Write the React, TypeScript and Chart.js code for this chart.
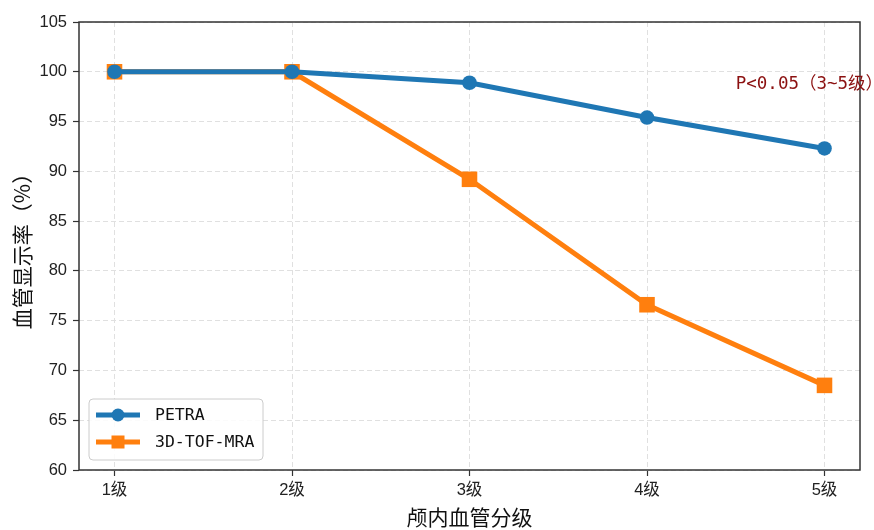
import { useEffect, useRef } from "react";
import { Chart, registerables } from "chart.js";

Chart.register(...registerables);

// Grade categories on the x axis
const GRADES = ["1级", "2级", "3级", "4级", "5级"];
const GRADE_POS = [1, 2, 3, 4, 5];

// Vessel display rate (%) per grade
const PETRA = [100, 100, 98.9, 95.4, 92.3];
const TOF_MRA = [100, 100, 89.2, 76.6, 68.5];
const SERIES_NAMES = ["PETRA", "3D-TOF-MRA"];
const SERIES_COLORS = ["#1f77b4", "#ff7f0e"];

// Y axis range / ticks
const Y_MIN = 60;
const Y_MAX = 105;
const Y_STEP = 5;

const X_TITLE = "颅内血管分级";
const Y_TITLE = "血管显示率（%）";
const NOTE = "P<0.05（3~5级）";
const NOTE_AT = { x: 4.5, y: 98.7 };

const MONO = '"DejaVu Sans Mono", "Noto Sans CJK SC", monospace';
const CJK = '"Noto Sans CJK SC", sans-serif';
const TICK_FONT = '"Liberation Sans", "Noto Sans CJK SC", sans-serif';

const decorPlugin = {
  id: "decor",
  afterDraw(chart: any) {
    const { ctx, chartArea: a, scales } = chart;
    ctx.save();

    // box frame around the plot area
    ctx.strokeStyle = "#333";
    ctx.lineWidth = 1.5;
    ctx.strokeRect(a.left, a.top, a.right - a.left, a.bottom - a.top);

    // axis titles
    ctx.fillStyle = "#111";
    ctx.font = `21px ${CJK}`;
    ctx.textAlign = "center";
    ctx.textBaseline = "middle";
    ctx.fillText(X_TITLE, (a.left + a.right) / 2, 517);
    ctx.save();
    ctx.translate(22, (a.top + a.bottom) / 2);
    ctx.rotate(-Math.PI / 2);
    ctx.fillText(Y_TITLE, 0, 0);
    ctx.restore();

    // significance note
    ctx.fillStyle = "#8b1010";
    ctx.font = `17.5px ${MONO}`;
    ctx.textAlign = "left";
    ctx.fillText(
      NOTE,
      scales.x.getPixelForValue(NOTE_AT.x),
      scales.y.getPixelForValue(NOTE_AT.y)
    );

    // legend box
    const bx = a.left + 10;
    const by = a.bottom - 71;
    const bw = 174;
    const bh = 61;
    ctx.beginPath();
    ctx.roundRect(bx, by, bw, bh, 4);
    ctx.fillStyle = "rgba(255,255,255,0.85)";
    ctx.fill();
    ctx.strokeStyle = "#cccccc";
    ctx.lineWidth = 1;
    ctx.stroke();

    chart.data.datasets.forEach((ds: any, i: number) => {
      const cy = by + 16 + i * 27;
      ctx.strokeStyle = ds.borderColor;
      ctx.lineWidth = 5;
      ctx.beginPath();
      ctx.moveTo(bx + 7, cy);
      ctx.lineTo(bx + 51, cy);
      ctx.stroke();
      ctx.fillStyle = ds.borderColor;
      if (ds.pointStyle === "rect") {
        ctx.fillRect(bx + 29 - 6.5, cy - 6.5, 13, 13);
      } else {
        ctx.beginPath();
        ctx.arc(bx + 29, cy, 6.5, 0, Math.PI * 2);
        ctx.fill();
      }
      ctx.fillStyle = "#111";
      ctx.font = `16.5px ${MONO}`;
      ctx.textAlign = "left";
      ctx.fillText(ds.label, bx + 66, cy + 1);
    });

    ctx.restore();
  },
};

export default function App() {
  const canvasRef = useRef<HTMLCanvasElement | null>(null);

  useEffect(() => {
    const canvas = canvasRef.current;
    if (!canvas) return;

    const makeData = (vals: number[]) =>
      vals.map((v, i) => ({ x: GRADE_POS[i], y: v }));

    const chart = new Chart(canvas, {
      type: "line",
      data: {
        datasets: [
          {
            label: SERIES_NAMES[0],
            data: makeData(PETRA),
            borderColor: SERIES_COLORS[0],
            backgroundColor: SERIES_COLORS[0],
            borderWidth: 5,
            pointStyle: "circle",
            pointRadius: 7.3,
            pointBorderWidth: 0,
            tension: 0,
          },
          {
            label: SERIES_NAMES[1],
            data: makeData(TOF_MRA),
            borderColor: SERIES_COLORS[1],
            backgroundColor: SERIES_COLORS[1],
            borderWidth: 5,
            pointStyle: "rect",
            pointRadius: 11,
            pointBorderWidth: 0,
            tension: 0,
          },
        ],
      },
      options: {
        animation: false,
        responsive: false,
        devicePixelRatio: 1,
        layout: { padding: { top: 22, right: 14, left: 0, bottom: 0 } },
        plugins: {
          legend: { display: false },
          tooltip: { enabled: false },
        },
        scales: {
          x: {
            type: "linear",
            min: 0.8,
            max: 5.2,
            afterBuildTicks: (scale: any) => {
              scale.ticks = GRADE_POS.map((v) => ({ value: v }));
            },
            afterFit: (scale: any) => {
              scale.height = 60;
            },
            ticks: {
              callback: (v: any) => GRADES[GRADE_POS.indexOf(Number(v))] ?? "",
              font: { family: TICK_FONT, size: 16.5 },
              color: "#222",
              padding: 5,
              maxRotation: 0,
            },
            grid: {
              color: "#e0e0e0",
              lineWidth: 1,
              tickColor: "#333",
              tickLength: 6,
              tickWidth: 1.2,
              tickBorderDash: [],
            },
            border: { display: false, dash: [5, 3] },
          },
          y: {
            min: Y_MIN,
            max: Y_MAX,
            afterFit: (scale: any) => {
              scale.width = 79;
            },
            ticks: {
              stepSize: Y_STEP,
              font: { family: TICK_FONT, size: 16.5 },
              color: "#222",
              padding: 6,
            },
            grid: {
              color: "#e0e0e0",
              lineWidth: 1,
              tickColor: "#333",
              tickLength: 6,
              tickWidth: 1.2,
              tickBorderDash: [],
            },
            border: { display: false, dash: [5, 3] },
          },
        },
      },
      plugins: [decorPlugin],
    } as any);

    return () => chart.destroy();
  }, []);

  return (
    <div
      style={{
        position: "absolute",
        left: 0,
        top: 0,
        width: 874,
        height: 530,
        background: "#fff",
      }}
    >
      <canvas
        ref={canvasRef}
        width={874}
        height={530}
        style={{ display: "block", width: 874, height: 530 }}
      />
    </div>
  );
}
